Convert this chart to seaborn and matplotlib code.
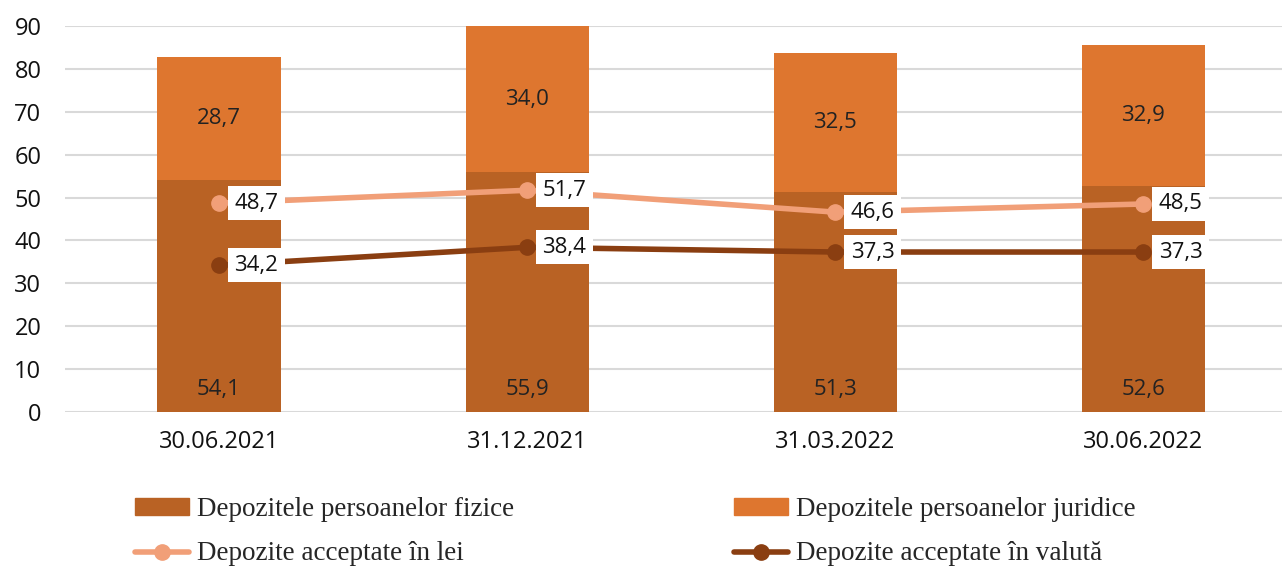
import numpy as np
import pandas as pd
import matplotlib
matplotlib.use("Agg")
import matplotlib.pyplot as plt
import seaborn as sns
from matplotlib.patches import Patch
from matplotlib.lines import Line2D

# Data
dates = ["30.06.2021", "31.12.2021", "31.03.2022", "30.06.2022"]
fizice = [54.1, 55.9, 51.3, 52.6]
juridice = [28.7, 34.0, 32.5, 32.9]
lei = [48.7, 51.7, 46.6, 48.5]
valuta = [34.2, 38.4, 37.3, 37.3]

c_fiz = "#B96224"
c_jur = "#DE762F"
c_lei = "#F19F78"
c_val = "#8A3E11"

sns.set_theme(style="white")
plt.rcParams["font.family"] = ["Open Sans", "DejaVu Sans"]

fig = plt.figure(figsize=(12.86, 5.67), dpi=100)
ax = fig.add_axes([65 / 1286, 1 - 412 / 567, 1217 / 1286, 386 / 567])

df = pd.DataFrame({"date": dates, "fizice": fizice, "juridice": juridice,
                   "total": np.add(fizice, juridice)})

sns.barplot(data=df, x="date", y="total", color=c_jur, width=0.40,
            saturation=1, linewidth=0, ax=ax, zorder=2)
sns.barplot(data=df, x="date", y="fizice", color=c_fiz, width=0.40,
            saturation=1, linewidth=0, ax=ax, zorder=2)

x = np.arange(len(dates))
ax.plot(x, lei, color=c_lei, lw=4, marker="o", ms=11, zorder=3)
ax.plot(x, valuta, color=c_val, lw=4, marker="o", ms=11, zorder=3)

fmt = lambda v: f"{v:.1f}".replace(".", ",")
for i in range(len(dates)):
    ax.text(i, 5.2, fmt(fizice[i]), ha="center", va="center", fontsize=16,
            color="#222222", zorder=4)
    ax.text(i, fizice[i] + juridice[i] / 2, fmt(juridice[i]), ha="center",
            va="center", fontsize=16, color="#222222", zorder=4)
    for series in (lei, valuta):
        ax.text(i + 0.05, series[i], fmt(series[i]), ha="left", va="center",
                fontsize=16, color="#111111", zorder=5,
                bbox=dict(boxstyle="square,pad=0.3", fc="white", ec="none"))

ax.set_ylim(0, 90)
ax.set_xlim(-0.5, 3.45)
ax.set_yticks(range(0, 91, 10))
ax.yaxis.grid(True, color="#D9D9D9", lw=1.5, zorder=0)
ax.set_axisbelow(True)
ax.set_xlabel("")
ax.set_ylabel("")
for s in ax.spines.values():
    s.set_visible(False)
ax.tick_params(axis="both", length=0, labelsize=17, colors="#111111")
ax.tick_params(axis="y", pad=17)
ax.tick_params(axis="x", pad=13)

# legend fills column by column
handles = [Patch(color=c_fiz),
           Line2D([], [], color=c_lei, lw=4, marker="o", ms=11),
           Patch(color=c_jur),
           Line2D([], [], color=c_val, lw=4, marker="o", ms=11)]
names = ["Depozitele persoanelor fizice", "Depozite acceptate în lei",
         "Depozitele persoanelor juridice", "Depozite acceptate în valută"]
leg = fig.legend(handles, names, ncol=2, loc="upper left",
                 bbox_to_anchor=(116 / 1286, 1 - 478 / 567), frameon=False,
                 prop={"family": "Liberation Serif", "size": 19.5},
                 handlelength=2.0, handleheight=0.55, handletextpad=0.3,
                 columnspacing=8.1, labelspacing=0.72, borderpad=0.2)

fig.savefig("out.png", dpi=100)
